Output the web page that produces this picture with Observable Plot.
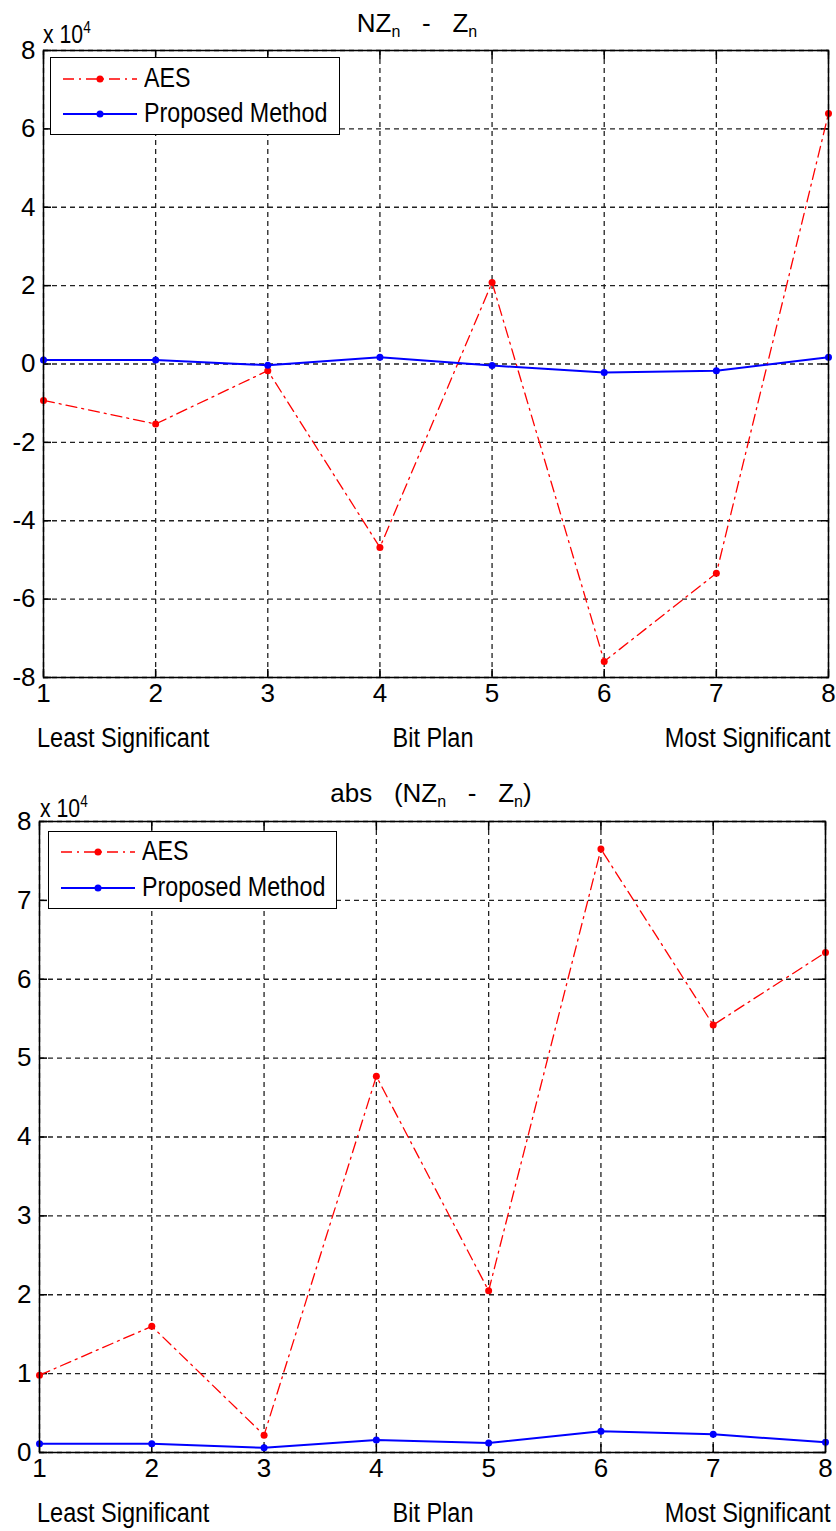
<!DOCTYPE html>
<html>
<head>
<meta charset="utf-8">
<script src="https://cdn.jsdelivr.net/npm/d3@7"></script>
<script src="https://cdn.jsdelivr.net/npm/@observablehq/plot@0.6"></script>
<style>
  html, body { margin: 0; padding: 0; background: #fff; }
  #page { position: relative; width: 836px; height: 1531px; overflow: hidden; background: #fff; }
  .narrow { font-family: "Liberation Sans", Arial, sans-serif; color: #000; }
  .abs { position: absolute; white-space: nowrap; }
  .title { font-family: "Liberation Sans", Arial, sans-serif; font-size: 26px; color: #000; line-height: 30px; }
  .title sub { font-size: 16px; vertical-align: -5px; }
  .expo { font-size: 25px; line-height: 28px; transform: scaleX(0.85); transform-origin: left center; }
  .expo sup { font-size: 16px; vertical-align: 10px; }
  .legend { position: absolute; background: #fff; border: 1.5px solid #000; box-sizing: border-box; }
  .legend .lbl { position: absolute; font-size: 27px; line-height: 30px; white-space: nowrap; transform: scaleX(0.86); transform-origin: left center; }
  .legend svg { position: absolute; left: 0; top: 0; }
  .axlbl { font-size: 27px; line-height: 30px; }
  .sx-left { transform: scaleX(0.87); transform-origin: left center; }
  .sx-center { transform: scaleX(0.87); transform-origin: center center; }
  .sx-right { transform: scaleX(0.87); transform-origin: right center; }
</style>
</head>
<body>
<div id="page"></div>
<script>
const bitPlane = [1, 2, 3, 4, 5, 6, 7, 8];
const xTicks = [1, 2, 3, 4, 5, 6, 7, 8];

// Top panel: NZn - Zn
const aesDiff  = [-9300, -15300, -1700, -46800, 20800, -75900, -53400, 63900];
const propDiff = [1000, 1000, -300, 1700, -400, -2200, -1700, 1700];
const yTicksDiff = [-80000, -60000, -40000, -20000, 0, 20000, 40000, 60000, 80000];

// Bottom panel: abs(NZn - Zn)
const aesAbs  = [9800, 16000, 2200, 47700, 20500, 76500, 54200, 63400];
const propAbs = [1100, 1100, 600, 1600, 1200, 2700, 2300, 1300];
const yTicksAbs = [0, 10000, 20000, 30000, 40000, 50000, 60000, 70000, 80000];

const seriesNames = ["AES", "Proposed Method"];
const bottomLabels = ["Least Significant", "Bit Plan", "Most Significant"];

const RED = "#ff0000", BLUE = "#0000ff";
const FONT = "'Liberation Sans', Arial, sans-serif";
const page = document.getElementById("page");

function panel({aes, prop, yDomain, yTicks, top, mt, mb, ml, mr, height}) {
  const A = bitPlane.map((b, i) => ({b, v: aes[i]}));
  const P = bitPlane.map((b, i) => ({b, v: prop[i]}));
  const grid = {stroke: "#222", strokeOpacity: 1, strokeWidth: 1.3, strokeDasharray: "5,4"};
  const chart = Plot.plot({
    width: 836, height,
    marginTop: mt, marginBottom: mb, marginLeft: ml, marginRight: mr,
    style: {fontFamily: FONT, fontSize: "26px", color: "#000", background: "transparent", overflow: "visible"},
    x: {domain: [1, 8]},
    y: {domain: yDomain},
    marks: [
      Plot.gridX(xTicks, grid),
      Plot.gridY(yTicks, grid),
      Plot.axisX(xTicks, {anchor: "bottom", tickSize: 0, tickPadding: 6, label: null, fontSize: 26, tickFormat: d => String(d)}),
      Plot.axisY(yTicks, {anchor: "left", tickSize: 0, tickPadding: 8, label: null, fontSize: 26, tickFormat: d => String(d / 1e4)}),
      Plot.axisX(xTicks, {anchor: "bottom", tickSize: -8, strokeWidth: 1.5, label: null, tickFormat: () => ""}),
      Plot.axisX(xTicks, {anchor: "top", tickSize: -8, strokeWidth: 1.5, label: null, tickFormat: () => ""}),
      Plot.axisY(yTicks, {anchor: "left", tickSize: -8, strokeWidth: 1.5, label: null, tickFormat: () => ""}),
      Plot.axisY(yTicks, {anchor: "right", tickSize: -8, strokeWidth: 1.5, label: null, tickFormat: () => ""}),
      Plot.line(A, {x: "b", y: "v", stroke: RED, strokeWidth: 1.3, strokeDasharray: "11,5,2,5"}),
      Plot.dot(A, {x: "b", y: "v", r: 3.5, fill: RED, stroke: "none"}),
      Plot.line(P, {x: "b", y: "v", stroke: BLUE, strokeWidth: 2}),
      Plot.dot(P, {x: "b", y: "v", r: 3.5, fill: BLUE, stroke: "none"}),
      Plot.frame({stroke: "#000", strokeWidth: 1.5})
    ]
  });
  chart.style.position = "absolute";
  chart.style.left = "0px";
  chart.style.top = top + "px";
  // narrow the tick label glyphs like the reference
  chart.querySelectorAll("text").forEach(t => { t.style.fontStretch = "condensed"; });
  page.appendChild(chart);
}

function legend(left, top, w, h, rowY, textLeft) {
  const d = document.createElement("div");
  d.className = "legend narrow";
  d.style.left = left + "px"; d.style.top = top + "px";
  d.style.width = w + "px"; d.style.height = h + "px";
  const ns = "http://www.w3.org/2000/svg";
  const svg = document.createElementNS(ns, "svg");
  svg.setAttribute("width", w); svg.setAttribute("height", h);
  const colors = [RED, BLUE];
  const dashes = ["11,5,2,5", null];
  seriesNames.forEach((name, i) => {
    const ln = document.createElementNS(ns, "line");
    ln.setAttribute("x1", 12); ln.setAttribute("x2", 86);
    ln.setAttribute("y1", rowY[i]); ln.setAttribute("y2", rowY[i]);
    ln.setAttribute("stroke", colors[i]);
    ln.setAttribute("stroke-width", i ? 2 : 1.3);
    if (dashes[i]) ln.setAttribute("stroke-dasharray", dashes[i]);
    svg.appendChild(ln);
    const c = document.createElementNS(ns, "circle");
    c.setAttribute("cx", 49); c.setAttribute("cy", rowY[i]); c.setAttribute("r", 3.5);
    c.setAttribute("fill", colors[i]);
    svg.appendChild(c);
    const t = document.createElement("div");
    t.className = "lbl"; t.textContent = name;
    t.style.left = textLeft + "px"; t.style.top = (rowY[i] - 16) + "px";
    d.appendChild(t);
  });
  d.insertBefore(svg, d.firstChild);
  page.appendChild(d);
}

function text(html, cls, left, top, align) {
  const d = document.createElement("div");
  d.className = "abs " + cls;
  d.innerHTML = html;
  d.style.top = top + "px";
  if (align === "center") { d.style.left = (left - 300) + "px"; d.style.width = "600px"; d.style.textAlign = "center"; }
  else if (align === "right") { d.style.right = (836 - left) + "px"; }
  else d.style.left = left + "px";
  page.appendChild(d);
}

// ---- top panel ----
panel({aes: aesDiff, prop: propDiff, yDomain: [-80000, 80000], yTicks: yTicksDiff,
       top: 0, height: 720, mt: 50, mb: 43, ml: 43, mr: 8});
text("NZ<sub>n</sub>&nbsp;&nbsp;&nbsp;-&nbsp;&nbsp;&nbsp;Z<sub>n</sub>", "title", 417, 8, "center");
text("x 10<sup>4</sup>", "narrow expo", 43, 14);
legend(50, 57, 290, 78, [21, 56], 93);
text(bottomLabels[0], "narrow axlbl sx-left", 37, 723);
text(bottomLabels[1], "narrow axlbl sx-center", 433, 723, "center");
text(bottomLabels[2], "narrow axlbl sx-right", 831, 723, "right");

// ---- bottom panel ----
panel({aes: aesAbs, prop: propAbs, yDomain: [0, 80000], yTicks: yTicksAbs,
       top: 770, height: 720, mt: 51, mb: 38, ml: 39, mr: 11});
text("abs&nbsp;&nbsp;&nbsp;(NZ<sub>n</sub>&nbsp;&nbsp;&nbsp;-&nbsp;&nbsp;&nbsp;Z<sub>n</sub>)", "title", 431, 778, "center");
text("x 10<sup>4</sup>", "narrow expo", 40, 788);
legend(48, 831, 289, 78, [20, 56], 93);
text(bottomLabels[0], "narrow axlbl sx-left", 37, 1498);
text(bottomLabels[1], "narrow axlbl sx-center", 433, 1498, "center");
text(bottomLabels[2], "narrow axlbl sx-right", 831, 1498, "right");
</script>
</body>
</html>
